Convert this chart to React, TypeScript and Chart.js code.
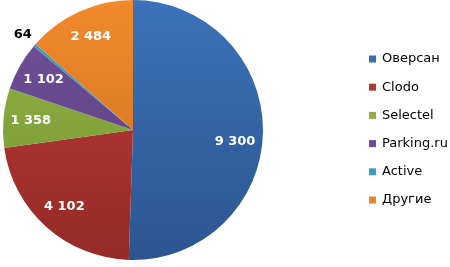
import React, { useEffect, useRef } from "react";
import { Chart, registerables } from "chart.js";

Chart.register(...registerables);

const categories = ["Оверсан", "Clodo", "Selectel", "Parking.ru", "Active", "Другие"];
const values = [9300, 4102, 1358, 1102, 64, 2484];
const valueLabels = ["9 300", "4 102", "1 358", "1 102", "64", "2 484"];
const colorsTop = ["#3b72b9", "#be3b38", "#94b846", "#73529c", "#3ea6c6", "#f28a2c"];
const colorsBottom = ["#2c5590", "#952a28", "#728f30", "#553a78", "#2d84a0", "#c96c1c"];
const legendColors = ["#3a6cae", "#b33a37", "#8caf3f", "#6b4c93", "#3a9fbf", "#ec8229"];

const labelPlugin = {
  id: "sliceLabels",
  afterDatasetsDraw(chart: any) {
    const ctx = chart.ctx;
    const meta = chart.getDatasetMeta(0);
    const total = values.reduce((a, b) => a + b, 0);
    ctx.save();
    ctx.font = "bold 13px 'DejaVu Sans'";
    ctx.textAlign = "center";
    ctx.textBaseline = "middle";
    meta.data.forEach((arc: any, i: number) => {
      const { x, y, startAngle, endAngle, outerRadius } = arc.getProps(
        ["x", "y", "startAngle", "endAngle", "outerRadius"],
        true
      );
      let mid = (startAngle + endAngle) / 2;
      const frac = values[i] / total;
      const small = frac < 0.02;
      if (frac > 0.5) mid += 0.1;
      const r = small ? outerRadius * 1.12 : outerRadius * 0.79;
      ctx.fillStyle = small ? "#000000" : "#ffffff";
      ctx.fillText(valueLabels[i], x + Math.cos(mid) * r, y + Math.sin(mid) * r);
    });
    ctx.restore();
  },
};

const legendPlugin = {
  id: "sideLegend",
  afterDraw(chart: any) {
    const ctx = chart.ctx;
    ctx.save();
    ctx.font = "13px 'DejaVu Sans'";
    ctx.textBaseline = "middle";
    ctx.textAlign = "left";
    const x0 = 369;
    const y0 = 59;
    const step = 28.2;
    categories.forEach((c, i) => {
      const y = y0 + i * step;
      ctx.fillStyle = legendColors[i];
      ctx.fillRect(x0, y - 3.5, 7, 7);
      ctx.fillStyle = "#000000";
      ctx.fillText(c, x0 + 13, y);
    });
    ctx.restore();
  },
};

export default function App() {
  const ref = useRef<HTMLCanvasElement | null>(null);
  useEffect(() => {
    document.body.style.margin = "0";
    const canvas = ref.current!;
    const chart = new Chart(canvas, {
      type: "pie",
      data: {
        labels: categories,
        datasets: [
          {
            data: values,
            borderWidth: 0,
            backgroundColor: (c: any) => {
              const area = c.chart.chartArea;
              const i = c.dataIndex;
              if (!area) return colorsTop[i];
              const g = c.chart.ctx.createLinearGradient(0, area.top, 0, area.bottom);
              g.addColorStop(0, colorsTop[i]);
              g.addColorStop(1, colorsBottom[i]);
              return g;
            },
          },
        ],
      },
      options: {
        responsive: false,
        animation: false,
        layout: { padding: { left: 3, top: 0, right: 187, bottom: 7 } },
        plugins: {
          legend: { display: false },
          tooltip: { enabled: false },
        },
      },
      plugins: [labelPlugin, legendPlugin],
    });
    return () => chart.destroy();
  }, []);
  return (
    <div style={{ position: "absolute", left: 0, top: 0, width: 450, height: 267, background: "#fff" }}>
      <canvas ref={ref} width={450} height={267} style={{ display: "block" }} />
    </div>
  );
}
